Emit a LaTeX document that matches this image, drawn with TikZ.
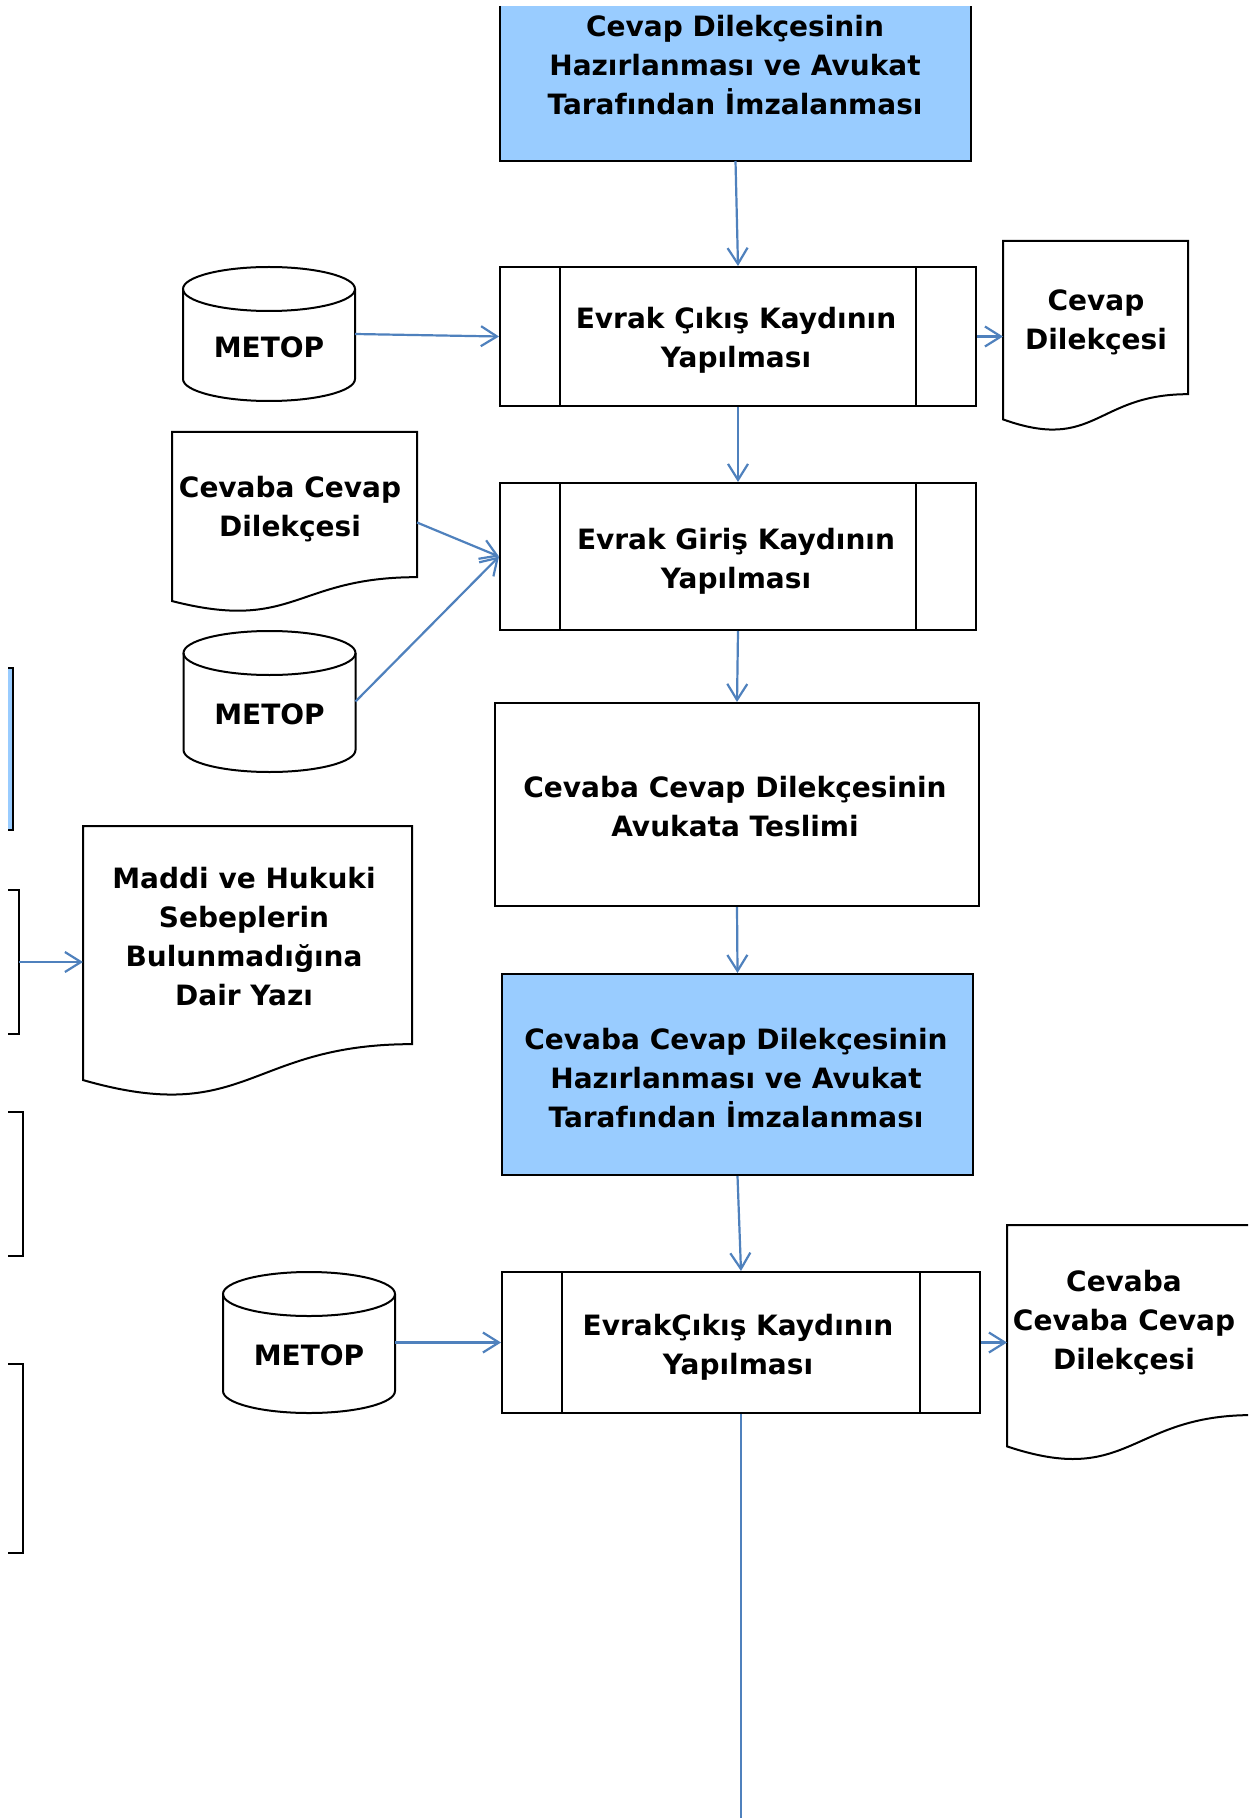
\documentclass[tikz,border=0pt]{standalone}
\usepackage{fontspec}
\setmainfont{DejaVu Sans}
\usetikzlibrary{arrows.meta,calc}
\definecolor{boxblue}{HTML}{99CCFF}
\definecolor{arrblue}{HTML}{4F81BD}
\newcommand\drawcyl[1]{%
  \draw[outline] ($(#1.north)+(0,22)$) ellipse [x radius=43pt, y radius=11pt];
  \draw[outline] ($(#1.north west)+(0,22)$) -- ($(#1.south west)+(0,-22)$)
     arc[start angle=180, end angle=360, x radius=43pt, y radius=11pt]
     -- ($(#1.north east)+(0,22)$);
}
\newcommand\drawdoc[1]{%
  \draw[outline] ($(#1.north west)!0.934!(#1.south west)$) -- (#1.north west) -- (#1.north east)
     -- ($(#1.north east)!0.802!(#1.south east)$)
     .. controls ($(#1.north)!0.802!(#1.south)$) and ($(#1.north)!1.1075!(#1.south)$) ..
     ($(#1.north west)!0.934!(#1.south west)$) -- cycle;
}
\newcommand\drawbracket[1]{%
  \draw[outline] (#1.north west) -- (#1.north east) -- (#1.south east) -- (#1.south west);
}
\begin{document}
\begin{tikzpicture}[x=0.5pt,y=-0.5pt,
  every node/.style={font=\fontsize{14}{19.5}\selectfont\bfseries, align=center, inner sep=0pt},
  outline/.style={draw=black, line width=1pt, line join=miter},
  bx/.style={draw=black, line width=1pt, rectangle},
  proc/.style={bx, path picture={\draw[line width=1pt]
     ([xshift=30pt]path picture bounding box.north west) -- ([xshift=30pt]path picture bounding box.south west)
     ([xshift=-30pt]path picture bounding box.north east) -- ([xshift=-30pt]path picture bounding box.south east);}},
  zone/.style={draw=none, rectangle, inner sep=0pt, outer sep=0pt},
  arr/.style={draw=arrblue, line width=1.1pt, -{Straight Barb[length=8pt,width=10pt,line width=1.1pt]}},
  plainline/.style={draw=arrblue, line width=1.1pt},
]
\useasboundingbox (0,0) rectangle (1248,1818);
\fill[white] (0,0) rectangle (1248,1818);
\clip (0,0) rectangle (1248,1818);

% top blue box (cut at the top)
\node[zone, fill=boxblue, minimum width=235.5pt, minimum height=77.5pt] (top) at (735.5,83.5) {};
\draw[outline] (top.north west) -- (top.south west) -- (top.south east) -- (top.north east);
\node (toptxt) at (735,65) {Cevap Dilekçesinin\\Hazırlanması ve Avukat\\Tarafından İmzalanması};

% process boxes
\node[proc, minimum width=238pt, minimum height=69.5pt] (p1) at (738,336.5) {};
\node (p1t) at (736,340) {Evrak Çıkış Kaydının\\Yapılması};
\node[proc, minimum width=238pt, minimum height=73.5pt] (p2) at (738,556.5) {};
\node (p2t) at (736,561) {Evrak Giriş Kaydının\\Yapılması};
\node[bx, minimum width=242pt, minimum height=101.5pt] (tes) at (737,804.5) {};
\node (test) at (735,807) {Cevaba Cevap Dilekçesinin\\Avukata Teslimi};
\node[bx, fill=boxblue, minimum width=235.5pt, minimum height=100.5pt] (b2) at (737.5,1074.5) {};
\node (b2t) at (736,1078) {Cevaba Cevap Dilekçesinin\\Hazırlanması ve Avukat\\Tarafından İmzalanması};
\node[proc, minimum width=239pt, minimum height=70.5pt] (p3) at (741,1342.5) {};
\node (p3t) at (738,1347) {EvrakÇıkış Kaydının\\Yapılması};

% cylinders
\node[zone, minimum width=86pt, minimum height=67pt] (m1) at (269,334) {};
\drawcyl{m1}
\node (m1t) at (269,347) {METOP};
\node[zone, minimum width=86pt, minimum height=70.5pt] (m2) at (269.5,701.5) {};
\drawcyl{m2}
\node (m2t) at (269.5,714) {METOP};
\node[zone, minimum width=86pt, minimum height=70.5pt] (m3) at (309,1342.5) {};
\drawcyl{m3}
\node (m3t) at (309,1355) {METOP};

% documents
\node[zone, minimum width=92.5pt, minimum height=95.5pt] (d1) at (1095.5,336.5) {};
\drawdoc{d1}
\node (d1t) at (1096,322) {Cevap\\Dilekçesi};
\node[zone, minimum width=122.5pt, minimum height=90.5pt] (d2) at (294.5,522.5) {};
\drawdoc{d2}
\node (d2t) at (290,509) {Cevaba Cevap\\Dilekçesi};
\node[zone, minimum width=164.5pt, minimum height=136pt] (d3) at (247.5,962) {};
\drawdoc{d3}
\node (d3t) at (244,937) {Maddi ve Hukuki\\Sebeplerin\\Bulunmadığına\\Dair Yazı};
\node[zone, minimum width=122.5pt, minimum height=118.5pt] (d4) at (1129.5,1343.5) {};
\drawdoc{d4}
\node (d4t) at (1124,1323) {Cevaba\\Cevaba Cevap\\Dilekçesi};

% left fragments
\node[zone, fill=boxblue, minimum width=2.25pt, minimum height=81pt] (frag) at (10.25,749) {};
\drawbracket{frag}
\node[zone, minimum width=5.5pt, minimum height=72pt] (br2) at (13.5,962) {};
\drawbracket{br2}
\node[zone, minimum width=7.5pt, minimum height=72pt] (br3) at (15.5,1184) {};
\drawbracket{br3}
\node[zone, minimum width=7.5pt, minimum height=94.5pt] (br4) at (15.5,1458.5) {};
\drawbracket{br4}

% connectors
\draw[arr] (top.south) -- (p1.north);
\draw[arr] (m1.east) -- (p1.west);
\draw[arr] (p1.east) -- (p1.east -| d1.west);
\draw[arr] (p1.south) -- (p2.north);
\draw[arr] (d2.east) -- (p2.west);
\draw[arr] (m2.east) -- (p2.west);
\draw[arr] (p2.south) -- (tes.north);
\draw[arr] (tes.south) -- (b2.north);
\draw[arr] (b2.south) -- (p3.north);
\draw[arr] (m3.east) -- (p3.west);
\draw[arr] (p3.east) -- (p3.east -| d4.west);
\draw[arr] (br2.east) -- (d3.west);
\coordinate (endc) at (741,1830);
\draw[plainline] (p3.south) -- (endc);
\end{tikzpicture}
\end{document}
